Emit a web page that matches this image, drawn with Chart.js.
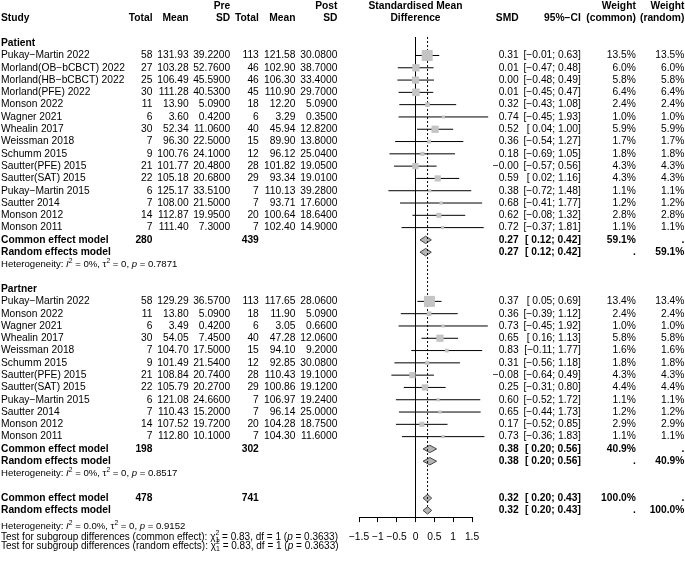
<!DOCTYPE html>
<html>
<head>
<meta charset="utf-8">
<script src="https://cdn.jsdelivr.net/npm/chart.js@4.4.0/dist/chart.umd.min.js"></script>
<style>
html, body { margin: 0; padding: 0; background: #fff; }
canvas { display: block; }
</style>
</head>
<body>
<canvas id="forest" width="685" height="565"></canvas>
<script>
// Patient subgroup
const patStudies = ['Pukay−Martin 2022', 'Morland(OB−bCBCT) 2022', 'Morland(HB−bCBCT) 2022', 'Morland(PFE) 2022', 'Monson 2022', 'Wagner 2021', 'Whealin 2017', 'Weissman 2018', 'Schumm 2015', 'Sautter(PFE) 2015', 'Sautter(SAT) 2015', 'Pukay−Martin 2015', 'Sautter 2014', 'Monson 2012', 'Monson 2011'];
const patPreN = [58, 27, 25, 30, 11, 6, 30, 7, 9, 21, 22, 6, 7, 14, 7];
const patPreMean = [131.93, 103.28, 106.49, 111.28, 13.90, 3.60, 52.34, 96.30, 100.76, 101.77, 105.18, 125.17, 108.00, 112.87, 111.40];
const patPreSD = [39.22, 52.76, 45.59, 40.53, 5.09, 0.42, 11.06, 22.50, 24.10, 20.48, 20.68, 33.51, 21.50, 19.95, 7.30];
const patPostN = [113, 46, 46, 45, 18, 6, 40, 15, 12, 28, 29, 7, 7, 20, 7];
const patPostMean = [121.58, 102.90, 106.30, 110.90, 12.20, 3.29, 45.94, 89.90, 96.12, 101.82, 93.34, 110.13, 93.71, 100.64, 102.40];
const patPostSD = [30.08, 38.70, 33.40, 29.70, 5.09, 0.35, 12.82, 13.80, 25.04, 19.05, 19.01, 39.28, 17.60, 18.64, 14.90];
const patSMD = [0.31, 0.01, 0.00, 0.01, 0.32, 0.74, 0.52, 0.36, 0.18, -0.003, 0.59, 0.38, 0.68, 0.62, 0.72];
const patLower = [-0.01, -0.47, -0.48, -0.45, -0.43, -0.45, 0.04, -0.54, -0.69, -0.57, 0.02, -0.72, -0.41, -0.08, -0.37];
const patUpper = [0.63, 0.48, 0.49, 0.47, 1.08, 1.93, 1.00, 1.27, 1.05, 0.56, 1.16, 1.48, 1.77, 1.32, 1.81];
const patWCommon = [13.5, 6.0, 5.8, 6.4, 2.4, 1.0, 5.9, 1.7, 1.8, 4.3, 4.3, 1.1, 1.2, 2.8, 1.1];
const patWRandom = [13.5, 6.0, 5.8, 6.4, 2.4, 1.0, 5.9, 1.7, 1.8, 4.3, 4.3, 1.1, 1.2, 2.8, 1.1];
const patTotals = [280, 439];
const patCommon = [0.27, 0.12, 0.42, 59.1];   // est, lower, upper, weight
const patRandom = [0.27, 0.12, 0.42, 59.1];
const patHet = ['0%', '0', '0.7871'];         // I2, tau2, p

// Partner subgroup
const parStudies = ['Pukay−Martin 2022', 'Monson 2022', 'Wagner 2021', 'Whealin 2017', 'Weissman 2018', 'Schumm 2015', 'Sautter(PFE) 2015', 'Sautter(SAT) 2015', 'Pukay−Martin 2015', 'Sautter 2014', 'Monson 2012', 'Monson 2011'];
const parPreN = [58, 11, 6, 30, 7, 9, 21, 22, 6, 7, 14, 7];
const parPreMean = [129.29, 13.80, 3.49, 54.05, 104.70, 101.49, 108.84, 105.79, 121.08, 110.43, 107.52, 112.80];
const parPreSD = [36.57, 5.09, 0.42, 7.45, 17.50, 21.54, 20.74, 20.27, 24.66, 15.20, 19.72, 10.10];
const parPostN = [113, 18, 6, 40, 15, 12, 28, 29, 7, 7, 20, 7];
const parPostMean = [117.65, 11.90, 3.05, 47.28, 94.10, 92.85, 110.43, 100.86, 106.97, 96.14, 104.28, 104.30];
const parPostSD = [28.06, 5.09, 0.66, 12.06, 9.20, 30.08, 19.10, 19.12, 19.24, 25.00, 18.75, 11.60];
const parSMD = [0.37, 0.36, 0.73, 0.65, 0.83, 0.31, -0.08, 0.25, 0.60, 0.65, 0.17, 0.73];
const parLower = [0.05, -0.39, -0.45, 0.16, -0.11, -0.56, -0.64, -0.31, -0.52, -0.44, -0.52, -0.36];
const parUpper = [0.69, 1.12, 1.92, 1.13, 1.77, 1.18, 0.49, 0.80, 1.72, 1.73, 0.85, 1.83];
const parWCommon = [13.4, 2.4, 1.0, 5.8, 1.6, 1.8, 4.3, 4.4, 1.1, 1.2, 2.9, 1.1];
const parWRandom = [13.4, 2.4, 1.0, 5.8, 1.6, 1.8, 4.3, 4.4, 1.1, 1.2, 2.9, 1.1];
const parTotals = [198, 302];
const parCommon = [0.38, 0.20, 0.56, 40.9];
const parRandom = [0.38, 0.20, 0.56, 40.9];
const parHet = ['0%', '0', '0.8517'];

// Overall
const allTotals = [478, 741];
const allCommon = [0.32, 0.20, 0.43, 100.0];
const allRandom = [0.32, 0.20, 0.43, 100.0];
const allHet = ['0.0%', '0', '0.9152'];
const subgroupTest = ['0.83', '1', '0.3633'];   // chi2, df, p

const xTicks = [-1.5, -1, -0.5, 0, 0.5, 1, 1.5];

// row layout (one row = one line of the table)
const groups = [
  { name: 'Patient', studies: patStudies, preN: patPreN, preMean: patPreMean, preSD: patPreSD, postN: patPostN, postMean: patPostMean, postSD: patPostSD,
    smd: patSMD, lo: patLower, hi: patUpper, wc: patWCommon, wr: patWRandom, tot: patTotals, common: patCommon, random: patRandom, het: patHet },
  { name: 'Partner', studies: parStudies, preN: parPreN, preMean: parPreMean, preSD: parPreSD, postN: parPostN, postMean: parPostMean, postSD: parPostSD,
    smd: parSMD, lo: parLower, hi: parUpper, wc: parWCommon, wr: parWRandom, tot: parTotals, common: parCommon, random: parRandom, het: parHet }
];
let row = 3;
groups.forEach(g => {
  g.headRow = row;
  g.rows = g.studies.map((s, i) => row + 1 + i);
  row += g.studies.length + 1;
  g.commonRow = row; g.randomRow = row + 1; g.hetRow = row + 2;
  row += 4;
});
const allCommonRow = row, allRandomRow = row + 1;
const firstRow = 3, lastRow = allRandomRow;

const minus = s => String(s).replace(/-/g, '−');
const f2 = v => minus(v.toFixed(2));
const fCI = (lo, hi) => '[' + (lo < 0 ? '' : ' ') + f2(lo) + '; ' + f2(hi) + ']';
const pct = v => v.toFixed(1) + '%';

// datasets
const datasets = [];
const GRAY = '#c4c4c4';
const squarePts = [], centerPts = [];
groups.forEach(g => {
  g.studies.forEach((s, i) => {
    const side = 3.0 * Math.sqrt(g.wc[i]);
    squarePts.push({ x: g.smd[i], y: g.rows[i], r: side / Math.SQRT2 });
    centerPts.push({ x: g.smd[i], y: g.rows[i] });
  });
});
datasets.push({
  type: 'scatter', data: squarePts, pointStyle: 'rect', backgroundColor: GRAY, borderWidth: 0,
  pointRadius: ctx => ctx.raw ? ctx.raw.r : 0, clip: false
});
groups.forEach(g => {
  g.studies.forEach((s, i) => {
    datasets.push({
      type: 'line', data: [{ x: g.lo[i], y: g.rows[i] }, { x: g.hi[i], y: g.rows[i] }],
      borderColor: '#000', borderWidth: 1, pointRadius: 0, fill: false, clip: false
    });
  });
});
datasets.push({
  type: 'scatter', data: centerPts, pointStyle: 'rect', backgroundColor: '#000', borderWidth: 0, pointRadius: 1.1, clip: false
});
// reference lines: null effect and overall common effect
datasets.push({
  type: 'line', data: [{ x: 0, y: firstRow - 0.5 }, { x: 0, y: lastRow + 0.6 }],
  borderColor: '#000', borderWidth: 1, pointRadius: 0, fill: false, clip: false
});
datasets.push({
  type: 'line', data: [{ x: allCommon[0], y: firstRow - 0.5 }, { x: allCommon[0], y: lastRow - 0.3 }],
  borderColor: '#000', borderWidth: 1, borderDash: [2, 2], pointRadius: 0, fill: false, clip: false
});
// diamonds
const diamond = (p, r) => ({
  type: 'line',
  data: [{ x: p[1], y: r }, { x: p[0], y: r - 0.3 }, { x: p[2], y: r }, { x: p[0], y: r + 0.3 }, { x: p[1], y: r }],
  borderColor: '#444', borderWidth: 1, backgroundColor: '#b4b4b4', fill: 'shape', pointRadius: 0, tension: 0, clip: false
});
groups.forEach(g => {
  datasets.push(diamond(g.common, g.commonRow));
  datasets.push(diamond(g.random, g.randomRow));
});
datasets.push(diamond(allCommon, allCommonRow));
datasets.push(diamond(allRandom, allRandomRow));

// table text
const FS = 10.25;
const FAM = '"Liberation Sans", Arial, sans-serif';
const col = { study: 1, preN: 152.5, preMean: 188.6, preSD: 230.2, postN: 258.8, postMean: 295.4, postSD: 337.4, smd: 518.6, ci: 580.8, wc: 635.8, wr: 684.4 };

function richText(ctx, segs, x, y, size) {
  ctx.textAlign = 'left';
  segs.forEach(([t, s]) => {
    if (s === 'sup' || s === 'sub') {
      ctx.font = (size * 0.7) + 'px ' + FAM;
      ctx.fillText(t, x, y + (s === 'sup' ? -size * 0.38 : size * 0.3));
      x += ctx.measureText(t).width;
    } else if (s === 'supsub') {
      ctx.font = (size * 0.7) + 'px ' + FAM;
      ctx.fillText(t[0], x, y - size * 0.4);
      ctx.fillText(t[1], x, y + size * 0.32);
      x += Math.max(ctx.measureText(t[0]).width, ctx.measureText(t[1]).width);
    } else {
      ctx.font = (s === 'i' ? 'italic ' : '') + size + 'px ' + FAM;
      ctx.fillText(t, x, y);
      x += ctx.measureText(t).width;
    }
  });
}
const hetSegs = h => [['Heterogeneity: ', ''], ['I', 'i'], ['2', 'sup'], [' = ' + h[0] + ', ', ''], ['τ', ''], ['2', 'sup'], [' = ' + h[1] + ', ', ''], ['p', 'i'], [' = ' + h[2], '']];
const testSegs = (kind, t) => [['Test for subgroup differences (' + kind + '): ', ''], ['χ', ''], ['21', 'supsub'], [' = ' + t[0] + ', df = ' + t[1] + ' (', ''], ['p', 'i'], [' = ' + t[2] + ')', '']];

const tablePlugin = {
  id: 'forestTable',
  afterDraw(chart) {
    const ctx = chart.ctx;
    const ys = chart.scales.y, xs = chart.scales.x;
    const Y = r => ys.getPixelForValue(r);
    ctx.save();
    ctx.fillStyle = '#000';
    ctx.textBaseline = 'middle';
    const put = (t, x, r, align, bold) => {
      ctx.font = (bold ? 'bold ' : '') + FS + 'px ' + FAM;
      ctx.textAlign = align || 'right';
      ctx.fillText(t, x, Y(r));
    };
    const cx = xs.getPixelForValue(0);
    // header
    put('Pre', col.preSD, 0, 'right', true);
    put('Post', col.postSD, 0, 'right', true);
    put('Standardised Mean', cx, 0, 'center', true);
    put('Weight', col.wc, 0, 'right', true);
    put('Weight', col.wr, 0, 'right', true);
    put('Study', col.study, 1, 'left', true);
    ['preN', 'preMean', 'preSD', 'postN', 'postMean', 'postSD'].forEach((k, i) => put(['Total', 'Mean', 'SD'][i % 3], col[k], 1, 'right', true));
    put('Difference', cx, 1, 'center', true);
    put('SMD', col.smd, 1, 'right', true);
    put('95%−CI', col.ci, 1, 'right', true);
    put('(common)', col.wc, 1, 'right', true);
    put('(random)', col.wr, 1, 'right', true);

    const summary = (label, tot, p, r, commonSide) => {
      put(label, col.study, r, 'left', true);
      if (tot) { put(String(tot[0]), col.preN, r, 'right', true); put(String(tot[1]), col.postN, r, 'right', true); }
      put(f2(p[0]), col.smd, r, 'right', true);
      put(fCI(p[1], p[2]), col.ci, r, 'right', true);
      put(commonSide ? pct(p[3]) : '.', col.wc, r, 'right', true);
      put(commonSide ? '.' : pct(p[3]), col.wr, r, 'right', true);
    };
    groups.forEach(g => {
      put(g.name, col.study, g.headRow, 'left', true);
      g.studies.forEach((s, i) => {
        const r = g.rows[i];
        put(s, col.study, r, 'left');
        put(String(g.preN[i]), col.preN, r);
        put(g.preMean[i].toFixed(2), col.preMean, r);
        put(g.preSD[i].toFixed(4), col.preSD, r);
        put(String(g.postN[i]), col.postN, r);
        put(g.postMean[i].toFixed(2), col.postMean, r);
        put(g.postSD[i].toFixed(4), col.postSD, r);
        put(f2(g.smd[i]), col.smd, r);
        put(fCI(g.lo[i], g.hi[i]), col.ci, r);
        put(pct(g.wc[i]), col.wc, r);
        put(pct(g.wr[i]), col.wr, r);
      });
      summary('Common effect model', g.tot, g.common, g.commonRow, true);
      summary('Random effects model', null, g.random, g.randomRow, false);
      richText(ctx, hetSegs(g.het), col.study, Y(g.hetRow), 9.6);
    });
    summary('Common effect model', allTotals, allCommon, allCommonRow, true);
    summary('Random effects model', null, allRandom, allRandomRow, false);
    richText(ctx, hetSegs(allHet), col.study, Y(lastRow + 1.3), 9.6);
    richText(ctx, testSegs('common effect', subgroupTest), col.study, Y(lastRow + 2.17), 10);
    richText(ctx, testSegs('random effects', subgroupTest), col.study, Y(lastRow + 2.9), 10);
    ctx.restore();
  }
};

new Chart(document.getElementById('forest'), {
  type: 'scatter',
  data: { datasets: datasets },
  options: {
    responsive: false,
    animation: false,
    events: [],
    layout: { padding: { left: 359, right: 213, top: 0, bottom: 12.6 } },
    plugins: { legend: { display: false }, tooltip: { enabled: false } },
    scales: {
      x: {
        type: 'linear', min: xTicks[0], max: xTicks[xTicks.length - 1],
        afterBuildTicks: axis => { axis.ticks = xTicks.map(v => ({ value: v })); },
        ticks: { autoSkip: false, maxRotation: 0, color: '#000', padding: 9,
                 font: { family: FAM, size: FS }, callback: v => minus(v) },
        grid: { display: true, drawOnChartArea: false, drawTicks: true, tickLength: 5, color: '#000', lineWidth: 1 },
        border: { display: true, color: '#000', width: 1 }
      },
      y: { type: 'linear', reverse: true, min: 0.122, max: 41.545, display: false }
    }
  },
  plugins: [tablePlugin]
});
</script>
</body>
</html>
